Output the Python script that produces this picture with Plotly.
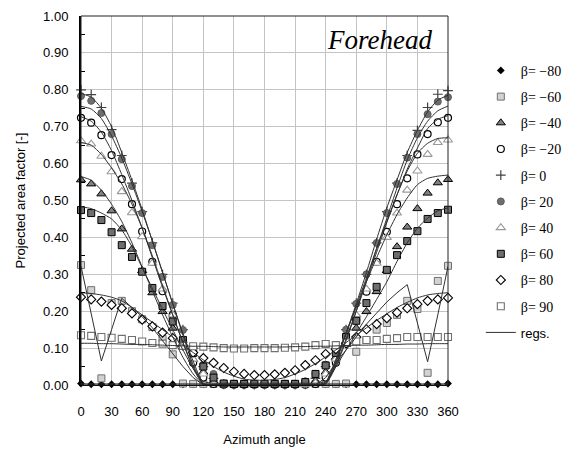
import plotly.graph_objects as go

# ---------------- data ----------------
azimuth = [0, 10, 20, 30, 40, 50, 60, 70, 80, 90, 100, 110, 120, 130, 140, 150, 160, 170, 180,
           190, 200, 210, 220, 230, 240, 250, 260, 270, 280, 290, 300, 310, 320, 330, 340, 350, 360]
x_ticks = [0, 30, 60, 90, 120, 150, 180, 210, 240, 270, 300, 330, 360]
y_ticks = [0.0, 0.1, 0.2, 0.3, 0.4, 0.5, 0.6, 0.7, 0.8, 0.9, 1.0]

beta_m80 = [0.004, 0.002, 0.002, 0.002, 0.002, 0.002, 0.002, 0.002, 0.002, 0.002, 0.002, 0.002, 0.002,
            0.002, 0.002, 0.002, 0.002, 0.002, 0.002, 0.002, 0.002, 0.002, 0.002, 0.002, 0.002, 0.002,
            0.002, 0.002, 0.002, 0.002, 0.002, 0.002, 0.002, 0.002, 0.002, 0.002, 0.004]
beta_m60 = [0.325, 0.257, 0.018, 0.222, 0.228, 0.200, 0.178, 0.157, 0.125, 0.083, 0.004, 0.003, 0.003,
            0.003, 0.003, 0.003, 0.003, 0.003, 0.003, 0.003, 0.003, 0.003, 0.003, 0.003, 0.003, 0.003,
            0.004, 0.090, 0.122, 0.150, 0.168, 0.190, 0.228, 0.206, 0.033, 0.282, 0.323]
beta_m40 = [0.556, 0.545, 0.518, 0.472, 0.423, 0.368, 0.310, 0.250, 0.199, 0.154, 0.110, 0.070, 0.035,
            0.010, 0.002, 0.001, 0.001, 0.001, 0.001, 0.001, 0.001, 0.001, 0.002, 0.010, 0.035, 0.075,
            0.110, 0.154, 0.199, 0.253, 0.310, 0.375, 0.428, 0.478, 0.520, 0.548, 0.557]
beta_m20 = [0.724, 0.711, 0.677, 0.623, 0.558, 0.490, 0.416, 0.334, 0.254, 0.190, 0.108, 0.060, 0.020,
            0.003, 0.001, 0.001, 0.001, 0.001, 0.001, 0.001, 0.001, 0.001, 0.001, 0.003, 0.020, 0.060,
            0.113, 0.176, 0.253, 0.334, 0.415, 0.490, 0.560, 0.625, 0.680, 0.712, 0.724]
beta_0 = [0.800, 0.787, 0.752, 0.692, 0.622, 0.547, 0.470, 0.385, 0.300, 0.222, 0.150, 0.100, 0.050,
          0.018, 0.002, 0.001, 0.001, 0.001, 0.001, 0.001, 0.001, 0.001, 0.002, 0.018, 0.050, 0.100,
          0.150, 0.222, 0.300, 0.385, 0.470, 0.547, 0.622, 0.690, 0.752, 0.788, 0.798]
beta_20 = [0.783, 0.770, 0.737, 0.680, 0.612, 0.539, 0.466, 0.379, 0.293, 0.217, 0.149, 0.103, 0.055,
           0.030, 0.004, 0.003, 0.003, 0.003, 0.003, 0.003, 0.003, 0.003, 0.010, 0.030, 0.055, 0.092,
           0.150, 0.220, 0.300, 0.385, 0.466, 0.545, 0.616, 0.680, 0.734, 0.768, 0.780]
beta_40 = [0.662, 0.653, 0.620, 0.578, 0.524, 0.467, 0.402, 0.330, 0.260, 0.190, 0.120, 0.070, 0.030,
           0.006, 0.001, 0.001, 0.001, 0.001, 0.001, 0.001, 0.001, 0.001, 0.001, 0.006, 0.030, 0.070,
           0.120, 0.190, 0.260, 0.330, 0.400, 0.466, 0.528, 0.580, 0.625, 0.657, 0.664]
beta_60 = [0.474, 0.466, 0.447, 0.414, 0.379, 0.347, 0.307, 0.263, 0.214, 0.172, 0.122, 0.087, 0.050,
           0.020, 0.004, 0.003, 0.003, 0.003, 0.003, 0.003, 0.003, 0.003, 0.008, 0.030, 0.053, 0.087,
           0.130, 0.174, 0.222, 0.266, 0.312, 0.352, 0.390, 0.417, 0.450, 0.466, 0.475]
beta_80 = [0.238, 0.232, 0.226, 0.217, 0.208, 0.194, 0.177, 0.159, 0.142, 0.127, 0.107, 0.088, 0.073,
           0.060, 0.046, 0.036, 0.030, 0.027, 0.027, 0.029, 0.033, 0.040, 0.054, 0.067, 0.084, 0.097,
           0.113, 0.130, 0.151, 0.165, 0.181, 0.196, 0.208, 0.219, 0.228, 0.232, 0.236]
beta_90 = [0.135, 0.133, 0.130, 0.128, 0.125, 0.122, 0.118, 0.114, 0.112, 0.108, 0.106, 0.105, 0.104,
           0.102, 0.100, 0.099, 0.099, 0.100, 0.100, 0.100, 0.101, 0.102, 0.104, 0.108, 0.111, 0.108,
           0.115, 0.118, 0.122, 0.122, 0.125, 0.127, 0.130, 0.130, 0.130, 0.130, 0.130]

# regression curves
reg_m80 = [0.003, 0.003, 0.003, 0.003, 0.003, 0.003, 0.003, 0.003, 0.003, 0.003, 0.003, 0.003, 0.003,
           0.003, 0.003, 0.003, 0.003, 0.003, 0.003, 0.003, 0.003, 0.003, 0.003, 0.003, 0.003, 0.003,
           0.003, 0.003, 0.003, 0.003, 0.003, 0.003, 0.003, 0.003, 0.003, 0.003, 0.003]
reg_m60 = [0.322, 0.190, 0.065, 0.150, 0.235, 0.210, 0.185, 0.155, 0.120, 0.085, 0.050, 0.020, 0.000,
           0.000, 0.000, 0.000, 0.000, 0.000, 0.000, 0.000, 0.000, 0.000, 0.000, 0.000, 0.020, 0.060,
           0.095, 0.130, 0.165, 0.195, 0.225, 0.250, 0.272, 0.168, 0.063, 0.190, 0.322]
reg_m40 = [0.565, 0.555, 0.528, 0.490, 0.443, 0.385, 0.320, 0.255, 0.190, 0.130, 0.075, 0.030, 0.002,
           0.000, 0.000, 0.000, 0.000, 0.000, 0.000, 0.000, 0.000, 0.000, 0.000, 0.000, 0.008, 0.070,
           0.140, 0.210, 0.280, 0.345, 0.407, 0.462, 0.507, 0.543, 0.560, 0.566, 0.569]
reg_m20 = [0.727, 0.715, 0.685, 0.635, 0.570, 0.500, 0.425, 0.345, 0.265, 0.190, 0.115, 0.050, 0.003,
           0.000, 0.000, 0.000, 0.000, 0.000, 0.000, 0.000, 0.000, 0.000, 0.000, 0.000, 0.005, 0.055,
           0.125, 0.200, 0.280, 0.360, 0.440, 0.515, 0.585, 0.642, 0.695, 0.720, 0.730]
reg_0 = [0.790, 0.780, 0.750, 0.700, 0.630, 0.555, 0.475, 0.390, 0.305, 0.220, 0.140, 0.065, 0.005,
         0.000, 0.000, 0.000, 0.000, 0.000, 0.000, 0.000, 0.000, 0.000, 0.000, 0.000, 0.005, 0.065,
         0.140, 0.220, 0.305, 0.395, 0.480, 0.556, 0.630, 0.690, 0.740, 0.772, 0.785]
reg_20 = [0.755, 0.748, 0.722, 0.675, 0.615, 0.545, 0.470, 0.390, 0.305, 0.220, 0.135, 0.055, 0.003,
          0.000, 0.000, 0.000, 0.000, 0.000, 0.000, 0.000, 0.000, 0.000, 0.000, 0.000, 0.003, 0.050,
          0.120, 0.200, 0.285, 0.370, 0.452, 0.534, 0.610, 0.670, 0.715, 0.743, 0.756]
reg_40 = [0.657, 0.650, 0.625, 0.588, 0.545, 0.490, 0.425, 0.350, 0.270, 0.190, 0.115, 0.045, 0.002,
          0.000, 0.000, 0.000, 0.000, 0.000, 0.000, 0.000, 0.000, 0.000, 0.000, 0.000, 0.003, 0.060,
          0.140, 0.215, 0.290, 0.370, 0.444, 0.516, 0.580, 0.628, 0.655, 0.668, 0.670]
reg_60 = [0.483, 0.478, 0.466, 0.450, 0.420, 0.375, 0.318, 0.262, 0.205, 0.150, 0.095, 0.045, 0.010,
          0.005, 0.005, 0.005, 0.005, 0.005, 0.005, 0.005, 0.005, 0.005, 0.005, 0.005, 0.010, 0.050,
          0.095, 0.140, 0.185, 0.232, 0.280, 0.335, 0.385, 0.425, 0.452, 0.472, 0.480]
reg_80 = [0.250, 0.248, 0.244, 0.238, 0.228, 0.210, 0.190, 0.170, 0.150, 0.130, 0.108, 0.088, 0.068,
          0.050, 0.035, 0.024, 0.016, 0.013, 0.013, 0.015, 0.020, 0.030, 0.042, 0.058, 0.076, 0.095,
          0.115, 0.135, 0.155, 0.175, 0.193, 0.210, 0.224, 0.236, 0.244, 0.248, 0.250]
reg_90 = [0.113, 0.113, 0.112, 0.112, 0.111, 0.110, 0.110, 0.109, 0.108, 0.107, 0.106, 0.105, 0.105,
          0.104, 0.103, 0.103, 0.103, 0.103, 0.103, 0.103, 0.103, 0.104, 0.104, 0.105, 0.105, 0.106,
          0.107, 0.108, 0.108, 0.109, 0.110, 0.110, 0.111, 0.111, 0.112, 0.112, 0.112]

series_names = ["β= −80", "β= −60", "β= −40", "β= −20", "β= 0", "β= 20", "β= 40", "β= 60", "β= 80", "β= 90"]
series_values = [beta_m80, beta_m60, beta_m40, beta_m20, beta_0, beta_20, beta_40, beta_60, beta_80, beta_90]
reg_values = [reg_m80, reg_m60, reg_m40, reg_m20, reg_0, reg_20, reg_40, reg_60, reg_80, reg_90]

# ---------------- styles ----------------
marker_styles = [
    dict(symbol="diamond", size=6, color="#000000", line=dict(width=0, color="#000000")),
    dict(symbol="square", size=7, color="#d2d2d2", line=dict(width=1, color="#707070")),
    dict(symbol="triangle-up", size=8, color="#808080", line=dict(width=1, color="#000000")),
    dict(symbol="circle", size=7, color="#ffffff", line=dict(width=1.2, color="#000000")),
    dict(symbol="cross-thin", size=7, color="#404040", line=dict(width=1.2, color="#404040")),
    dict(symbol="circle", size=7, color="#6e6e6e", line=dict(width=1, color="#5a5a5a")),
    dict(symbol="triangle-up", size=8, color="#ffffff", line=dict(width=1.1, color="#9a9a9a")),
    dict(symbol="square", size=7, color="#6e6e6e", line=dict(width=1, color="#000000")),
    dict(symbol="diamond", size=7, color="#ffffff", line=dict(width=1.1, color="#000000")),
    dict(symbol="square", size=7, color="#ffffff", line=dict(width=1.1, color="#707070")),
]
reg_shapes = ["spline"] * 10
reg_shapes[1] = "linear"

fig = go.Figure()

for i, (name, vals) in enumerate(zip(series_names, series_values)):
    fig.add_trace(go.Scatter(
        x=azimuth, y=vals, mode="markers", name=name,
        marker=marker_styles[i], cliponaxis=False,
        legendgroup=f"g{i}", showlegend=True,
    ))

for i, vals in enumerate(reg_values):
    fig.add_trace(go.Scatter(
        x=azimuth, y=vals, mode="lines",
        name='<span style="font-family:Arial, Liberation Sans, sans-serif; font-size:13px">regs.</span>',
        line=dict(color="#303030", width=1, shape=reg_shapes[i], smoothing=0.6),
        legendgroup="regs", showlegend=(i == 0), cliponaxis=True,
    ))

axis_font = dict(family="Arial, Liberation Sans, sans-serif", size=13, color="#000000")
serif = "Liberation Serif, Times New Roman, serif"

fig.update_layout(
    width=567, height=453,
    margin=dict(l=81, r=119, t=16, b=68, pad=0),
    paper_bgcolor="#ffffff", plot_bgcolor="#ffffff",
    font=axis_font,
    showlegend=True,
    legend=dict(
        x=0.848, y=0.879, xanchor="left", yanchor="top", xref="container", yref="container",
        font=dict(family=serif, size=14, color="#000000"),
        tracegroupgap=5, bgcolor="rgba(0,0,0,0)", borderwidth=0, maxheight=420,
    ),
    xaxis=dict(
        range=[0, 360], tickvals=x_ticks, ticktext=[str(v) for v in x_ticks],
        showgrid=True, gridcolor="#c4c4c4", gridwidth=1, zeroline=False,
        showline=True, linecolor="#000000", linewidth=1, ticks="",
        ticklabelstandoff=14, tickfont=axis_font, automargin=False,
        title=dict(text="Azimuth angle", font=axis_font, standoff=17),
    ),
    yaxis=dict(
        range=[0, 1], tickvals=y_ticks, ticktext=[f"{v:.2f}" for v in y_ticks],
        showgrid=True, gridcolor="#c4c4c4", gridwidth=1, zeroline=False,
        showline=True, linecolor="#000000", linewidth=2, ticks="",
        minor=dict(tickvals=[0.05, 0.15, 0.25, 0.35, 0.45, 0.55, 0.65, 0.75, 0.85, 0.95],
                   ticks="inside", ticklen=4, tickcolor="#000000", showgrid=False),
        ticklabelstandoff=8, tickfont=axis_font, automargin=False,
        title=dict(text="Projected area factor [-]", font=axis_font, standoff=15),
    ),
    shapes=[dict(type="rect", xref="paper", yref="paper", x0=0, y0=0, x1=1, y1=1,
                 line=dict(color="#222222", width=1), layer="above")],
    annotations=[dict(
        text="<i>Forehead</i>", xref="paper", yref="paper", x=0.962, y=0.935,
        xanchor="right", yanchor="middle", showarrow=False,
        font=dict(family=serif, size=27, color="#000000"),
    )],
)

fig.write_html("out.html")
